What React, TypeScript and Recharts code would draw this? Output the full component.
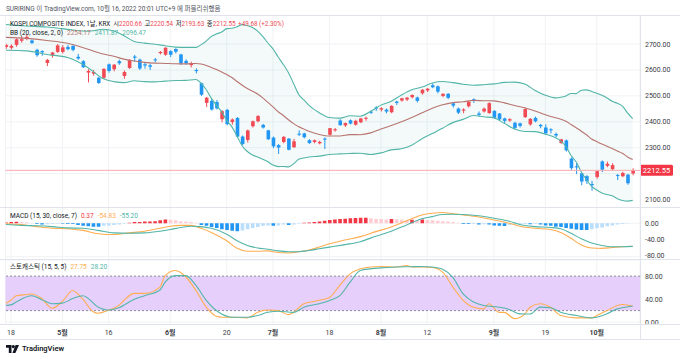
import React from "react";
import {
  Area,
  Bar,
  CartesianGrid,
  Cell,
  ComposedChart,
  Line,
  ReferenceArea,
  ReferenceLine,
  XAxis,
  YAxis,
} from "recharts";

// KOSPI daily candles, Apr 15 .. Oct 14 2022 (index -1 .. 121)
const FIRST_IDX = -1;

const opens = [
  2689,
  2686, 2697, 2713, 2721, 2714, 2678, 2673, 2627, 2656, 2670,
  2670, 2689, 2693, 2651, 2634, 2590, 2586, 2570, 2570, 2622,
  2603, 2634, 2577, 2608, 2652, 2640, 2622, 2618, 2641, 2665,
  2659, 2673, 2681, 2660, 2635, 2619, 2600, 2549, 2473, 2481,
  2476, 2410, 2446, 2399, 2415, 2343, 2330, 2383, 2402, 2388,
  2367, 2339, 2310, 2322, 2335, 2302, 2354, 2355, 2329, 2322,
  2317, 2335, 2350, 2368, 2405, 2386, 2406, 2389, 2398, 2412,
  2439, 2455, 2447, 2447, 2437, 2478, 2482, 2486, 2495, 2494,
  2510, 2521, 2541, 2537, 2500, 2508, 2471, 2451, 2443, 2460,
  2487, 2432, 2440, 2434, 2442, 2432, 2413, 2405, 2396, 2394,
  2418, 2390, 2415, 2388, 2378, 2371, 2353, 2318, 2328, 2258,
  2228, 2201, 2190, 2160, 2187, 2247, 2230, 2217, 2195, 2190,
  2196, 2200.66,
];
const highs = [
  2701,
  2699, 2722, 2730, 2736, 2718, 2682, 2676, 2643, 2670, 2700,
  2696, 2697, 2696, 2662, 2638, 2603, 2600, 2574, 2607, 2625,
  2623, 2640, 2598, 2641, 2658, 2644, 2627, 2625, 2646, 2673,
  2688, 2676, 2684, 2663, 2641, 2632, 2606, 2551, 2496, 2488,
  2484, 2445, 2450, 2413, 2418, 2347, 2370, 2405, 2426, 2392,
  2369, 2343, 2314, 2345, 2337, 2334, 2367, 2358, 2333, 2332,
  2327, 2340, 2376, 2376, 2410, 2397, 2409, 2408, 2415, 2420,
  2443, 2460, 2456, 2451, 2464, 2481, 2493, 2496, 2506, 2497,
  2526, 2530, 2548, 2540, 2510, 2511, 2475, 2455, 2452, 2480,
  2490, 2440, 2455, 2475, 2445, 2434, 2416, 2414, 2400, 2397,
  2452, 2414, 2420, 2392, 2390, 2375, 2358, 2334, 2332, 2262,
  2240, 2203, 2194, 2172, 2210, 2251, 2246, 2240, 2198, 2207,
  2199, 2220.54,
];
const lows = [
  2682,
  2679, 2690, 2706, 2715, 2700, 2651, 2655, 2615, 2648, 2666,
  2664, 2676, 2672, 2640, 2608, 2552, 2578, 2546, 2565, 2590,
  2595, 2620, 2566, 2604, 2632, 2600, 2605, 2600, 2630, 2660,
  2655, 2650, 2664, 2620, 2620, 2610, 2587, 2500, 2457, 2443,
  2448, 2398, 2386, 2389, 2340, 2310, 2320, 2378, 2398, 2374,
  2330, 2298, 2276, 2317, 2290, 2299, 2345, 2336, 2315, 2317,
  2313, 2295, 2347, 2362, 2385, 2380, 2390, 2385, 2395, 2404,
  2430, 2442, 2440, 2433, 2433, 2465, 2478, 2480, 2490, 2475,
  2505, 2515, 2530, 2510, 2495, 2488, 2455, 2430, 2433, 2455,
  2473, 2420, 2436, 2430, 2413, 2405, 2395, 2400, 2370, 2378,
  2415, 2385, 2398, 2375, 2350, 2355, 2340, 2315, 2285, 2215,
  2198, 2155, 2160, 2134, 2180, 2206, 2225, 2212, 2175, 2186,
  2157, 2193.63,
];
const closes = [
  2696.06,
  2693.21, 2718.69, 2718.89, 2728.21, 2704.71, 2657.13, 2668.31, 2639.06, 2667.49, 2695.05,
  2687.45, 2680.46, 2677.57, 2644.51, 2610.81, 2596.56, 2592.27, 2550.08, 2604.24, 2596.58,
  2620.44, 2625.98, 2592.34, 2639.29, 2647.38, 2605.87, 2617.22, 2612.45, 2638.05, 2669.66,
  2685.9, 2658.99, 2670.65, 2626.15, 2626.34, 2625.44, 2595.87, 2504.51, 2492.97, 2447.38,
  2451.41, 2440.93, 2391.03, 2408.93, 2342.81, 2314.32, 2366.6, 2401.92, 2422.09, 2377.99,
  2332.64, 2305.42, 2300.34, 2341.78, 2292.01, 2324.54, 2350.61, 2340.27, 2317.76, 2328.61,
  2322.32, 2330.98, 2375.25, 2370.97, 2386.85, 2395.27, 2393.14, 2403.69, 2412.9, 2415.53,
  2435.27, 2451.5, 2452.25, 2439.62, 2461.45, 2473.11, 2490.8, 2493.1, 2503.46, 2480.88,
  2523.78, 2527.94, 2533.52, 2516.47, 2508.05, 2492.69, 2462.5, 2435.34, 2447.45, 2477.26,
  2481.03, 2426.89, 2450.93, 2472.05, 2415.61, 2409.41, 2403.68, 2410.02, 2376.46, 2384.28,
  2449.54, 2411.42, 2401.83, 2382.78, 2355.66, 2367.85, 2347.21, 2332.31, 2290.0, 2220.94,
  2223.86, 2169.29, 2170.93, 2155.49, 2209.38, 2215.22, 2237.86, 2232.84, 2192.07, 2202.47,
  2162.87, 2212.55,
];

// Bollinger bands (20, 2), read at sample bars
const bbAt = [
  -1, 3, 7, 11, 15, 18, 20, 22, 24, 26, 28, 30, 32, 34, 36, 37, 38, 39, 40, 41,
  42, 43, 44, 45, 46, 47, 48, 49, 50, 51, 52, 53, 54, 55, 56, 57, 58, 60, 62, 64,
  66, 68, 70, 72, 74, 76, 78, 80, 82, 84, 86, 88, 90, 92, 94, 96, 98, 100, 102, 104,
  106, 107, 108, 109, 110, 111, 112, 113, 114, 115, 116, 117, 118, 119, 120, 121,
];
const bbBasis = [
  2726, 2722, 2714, 2703, 2680, 2661.5, 2652.9, 2641.9, 2634.6, 2629.5, 2626.7, 2625.4, 2624, 2623.8, 2625.4, 2623.1, 2617.6, 2610.1, 2601.6, 2592.4,
  2582.3, 2570.8, 2555.6, 2541, 2528.5, 2518, 2507.2, 2492.6, 2475, 2457.3, 2438.7, 2424.5, 2407.8, 2392.8, 2380.6, 2372.3, 2363.6, 2351.2, 2344.9, 2345.2,
  2350.6, 2350.2, 2357.2, 2372.2, 2385.5, 2399.9, 2416.8, 2434.5, 2452.3, 2465.6, 2474, 2477.3, 2482.6, 2481.3, 2480.7, 2473.1, 2462.6, 2454.1, 2441.6, 2427.4,
  2415.3, 2410.2, 2402.3, 2389.5, 2376.7, 2363.8, 2349.8, 2333.9, 2323.6, 2313.9, 2305.6, 2296.7, 2287.5, 2278.4, 2264.1, 2254.17,
];
const bbUpper = [
  2776, 2770, 2766, 2757, 2750, 2757.1, 2750.7, 2732.7, 2710.3, 2703.9, 2699.3, 2693.8, 2688.5, 2687.4, 2687.4, 2697.9, 2711.3, 2729.7, 2739.6, 2746.4,
  2759.7, 2761.2, 2766.8, 2775.2, 2771.7, 2764, 2750.2, 2729.6, 2704.2, 2681.7, 2650.3, 2621.5, 2589.6, 2548, 2505.6, 2484.3, 2463.2, 2434.8, 2416.3, 2414.2,
  2423.4, 2421.6, 2440.8, 2464.4, 2479.5, 2503.7, 2523.8, 2534.3, 2550.1, 2555.8, 2551.2, 2545.3, 2541, 2543.3, 2546.3, 2552.1, 2553.2, 2545.7, 2521, 2502.6,
  2492.5, 2494.8, 2499.9, 2509.1, 2508.9, 2521.6, 2523.2, 2517.3, 2510.6, 2502.3, 2492, 2479.1, 2471.7, 2460.6, 2434.7, 2411.87,
];
const bbLower = [
  2676, 2674, 2660, 2648, 2609, 2565.9, 2555.1, 2551.1, 2558.8, 2555, 2554, 2556.9, 2559.3, 2560.1, 2563.3, 2548.3, 2523.8, 2490.5, 2463.6, 2438.4,
  2404.9, 2380.4, 2344.4, 2306.8, 2285.3, 2272, 2264.2, 2255.6, 2245.8, 2232.9, 2227.1, 2227.5, 2226, 2237.6, 2255.6, 2260.3, 2264, 2267.6, 2273.5, 2276.2,
  2277.8, 2278.8, 2273.6, 2280, 2291.5, 2296.1, 2309.8, 2334.7, 2354.5, 2375.4, 2396.8, 2409.3, 2424.2, 2419.3, 2415.1, 2394.1, 2372, 2362.5, 2362.2, 2352.2,
  2338.1, 2325.6, 2304.7, 2269.9, 2244.5, 2206, 2176.4, 2150.5, 2136.6, 2125.5, 2119.2, 2114.3, 2103.3, 2096.2, 2093.5, 2096.47,
];

// MACD (15, 30, 7)
const histogram = [
  2,
  3, 3.5, 3, 2, 0.5, -2, -3, -2.5, -2, -1,
  -1, -1.5, -2, -4, -6, -7, -8, -8, -6, -5,
  -4, -3, -1, 1, 3, 3, 4, 4.5, 5, 7,
  9, 8.5, 7, 5, 4, 3, 1.5, -4, -6, -9,
  -11, -14, -16, -18, -19, -17, -14, -11, -9, -6,
  -5, -6, -5, -3, -4, -3, -1, 1, 2, 3,
  4, 6, 8, 9, 10, 11, 12, 12.5, 13, 13,
  12, 10.5, 10, 9, 10, 9.5, 9, 8, 8.5, 7,
  9, 8, 7, 6, 5, 4, 3, 1, -2, -2,
  -1.5, -3, -2.5, -3, -5, -6, -6.5, -4, -3.5, -3,
  -2, -2.5, -2, -3, -5, -6, -8, -9, -11, -13,
  -15, -16, -16, -14, -12, -10, -7, -5, -3, -2,
  -0.5, 0.37,
];
const macdAt = [
  -1, 2, 5, 8, 11, 14, 17, 20, 23, 26, 29, 31, 33, 35, 37, 39, 42, 44, 46, 48,
  50, 52, 54, 56, 58, 60, 62, 65, 68, 71, 74, 77, 80, 82, 84, 86, 88, 91, 94, 97,
  99, 102, 105, 107, 109, 111, 113, 115, 117, 119, 121,
];
const macdLine = [
  -1, -3, -8, -12, -13, -17, -25, -27, -23, -19, -12, -7, -5, -5, -12, -22, -42, -60, -67, -67,
  -66, -70, -71, -68, -64, -57, -49, -40, -32, -20, -9, 6, 20, 24, 26, 23, 20, 15, 8, 0,
  -7, -12, -15, -22, -36, -52, -59, -60, -58, -56, -54.83,
];
const signalLine = [
  -3, -5, -6, -8, -11, -12, -17, -23, -24, -23, -19, -15, -10, -7, -8, -12, -26, -42, -53, -59,
  -62, -66, -68, -68, -65, -61, -57, -51, -44, -31, -19, -4, 11, 16, 21, 21.5, 21, 18, 12, 5,
  -3, -8, -10, -13, -24, -37, -47, -53, -56, -56, -55.2,
];

// Stochastic (15, 5, 5)
const kAt = [
  -1, 0, 1, 3, 4, 6, 8, 10, 12, 13, 14, 16, 17, 19, 21, 22, 24, 26, 29, 30,
  32, 34, 36, 38, 40, 41, 43, 46, 48, 50, 52, 54, 55, 57, 59, 60, 62, 64, 66, 68,
  70, 72, 75, 77, 78, 80, 82, 84, 86, 88, 90, 92, 93, 95, 96, 98, 100, 101, 103, 105,
  107, 110, 113, 114, 116, 118, 119, 121,
];
const kLine = [
  33, 38, 46, 48, 49, 41, 24, 36, 55, 49, 40, 18, 15.5, 21, 29, 38, 50, 50, 61, 81,
  90, 79, 55, 26, 10, 8.5, 8.5, 7.4, 17, 21, 20, 13, 17, 32, 36, 38, 43, 64, 84, 93,
  96, 97, 96, 98.6, 96, 96, 95, 87, 61, 38, 26, 23, 32, 17, 17, 6, 14, 26, 32, 26,
  11.5, 7.4, 7.4, 11.5, 20, 29, 30.6, 27.75,
];
const dAt = [
  -1, 0, 1, 4, 6, 8, 10, 12, 14, 17, 19, 21, 24, 26, 29, 30, 32, 34, 36, 38,
  41, 43, 46, 48, 50, 52, 55, 57, 60, 62, 64, 66, 68, 72, 75, 78, 80, 82, 84, 86,
  88, 90, 92, 95, 97, 99, 101, 103, 105, 107, 110, 113, 114, 116, 118, 119, 121,
];
const dLine = [
  29, 30, 35, 46, 39, 32, 33, 41, 46, 26, 21, 25, 40, 46, 56, 69.5, 81, 81, 64, 38,
  14, 8.5, 8.5, 11.5, 17, 19, 17, 26, 32, 37.6, 46, 69.5, 90, 94.5, 96, 96.5, 97, 96, 92, 78,
  49, 35, 29, 26, 22, 14.4, 14, 26, 25, 17, 11.5, 7.4, 8.5, 14.4, 23, 25, 28.2,
];

// time axis
const tickAt = [0, 10, 19, 31, 42, 51, 62, 72, 81, 94, 104, 114];
const tickText = ["18", "5월", "16", "6월", "20", "7월", "18", "8월", "12", "9월", "19", "10월"];

const priceTicks = [2100, 2300, 2400, 2500, 2600, 2700];
const priceGrid = [2100, 2200, 2300, 2400, 2500, 2600, 2700];
const macdTicks = [0, -40, -80];
const stochTicks = [0, 40, 80];

// ---- build table ----
type Row = Record<string, number | undefined>;
const rows: Row[] = closes.map((c, k) => ({
  idx: FIRST_IDX + k,
  o: opens[k],
  h: highs[k],
  l: lows[k],
  c,
  hist: histogram[k],
}));
function place(at: number[], vals: number[], key: string) {
  at.forEach((i, n) => {
    rows[i - FIRST_IDX][key] = vals[n];
  });
}
place(bbAt, bbUpper, "bu");
place(bbAt, bbBasis, "bm");
place(bbAt, bbLower, "bl");
place(macdAt, macdLine, "macd");
place(macdAt, signalLine, "signal");
place(kAt, kLine, "k");
place(dAt, dLine, "d");

const last = closes.length - 1;
const change = closes[last] - closes[last - 1];
const changePct = (change / closes[last - 1]) * 100;

// ---- styling ----
const W = 680;
const PLOT_LEFT = 5.5;
const AXIS_W = 40;
const X_DOMAIN: [number, number] = [-1.07, 122.42];
const FONT = 'Roboto, "Noto Sans CJK KR", sans-serif';
const UP = "#f04a55";
const DOWN = "#2196f3";
const TEAL = "#52b5a8";
const ORANGE = "#ffad4f";
const BASIS = "#b87470";
const GRID = "#f1f2f5";
const LINE = "#e0e3eb";
const AXIS_TICK = { fill: "#3a3d45", fontSize: 7 };

const histColors = histogram.map((h, k) => {
  const prev = k > 0 ? histogram[k - 1] : h;
  if (h >= 0) return h >= prev ? "#f23645" : "#ffcdd2";
  return h <= prev ? DOWN : "#bbdefb";
});

const fmt2 = (v: number) => v.toFixed(2);

function Candle(props: any) {
  const { x, y, width, height, payload } = props;
  if (payload == null || payload.o == null) return null;
  const { o, h, l, c } = payload;
  const top = Math.min(y, y + height);
  const span = Math.abs(height);
  const k = h > l ? span / (h - l) : 0;
  const color = c >= o ? UP : DOWN;
  const bodyTop = top + (h - Math.max(o, c)) * k;
  const bodyBot = top + (h - Math.min(o, c)) * k;
  const cx = x + width / 2;
  return (
    <g>
      <line x1={cx} x2={cx} y1={top} y2={top + span} stroke={color} strokeWidth={1} />
      <rect x={cx - 1.8} y={bodyTop} width={3.6} height={Math.max(1, bodyBot - bodyTop)} fill={color} />
    </g>
  );
}

function PriceTag(props: any) {
  const vb = props.viewBox || {};
  const x = (vb.x ?? 0) + (vb.width ?? 0);
  const y = vb.y ?? 0;
  return (
    <g>
      <rect x={x} y={y - 5.5} width={33} height={11} rx={1.5} fill="#f23645" />
      <text x={x + 16.5} y={y} dy="0.35em" textAnchor="middle" fontSize={7.5} fill="#fff">
        {closes[last].toFixed(2)}
      </text>
    </g>
  );
}

function TimeTick(props: any) {
  const { x, y, payload } = props;
  const n = tickAt.indexOf(payload.value);
  if (n < 0) return <g />;
  const label = tickText[n];
  return (
    <text
      x={x}
      y={y}
      dy="0.35em"
      textAnchor="middle"
      fontSize={7}
      fontWeight={label.endsWith("월") ? 700 : 400}
      fill="#3a3d45"
    >
      {label}
    </text>
  );
}

const hLine = (top: number, left = 0, width = W) => (
  <div style={{ position: "absolute", left, top, width, height: 1, background: LINE }} />
);

export default function App() {
  const margin = { top: 0, right: 0, bottom: 0, left: PLOT_LEFT };
  return (
    <div
      style={{
        position: "absolute",
        left: 0,
        top: 0,
        width: W,
        height: 359,
        background: "#fff",
        overflow: "hidden",
        fontFamily: FONT,
        color: "#131722",
      }}
    >
      {/* price pane */}
      <div style={{ position: "absolute", left: 0, top: 15, width: W, height: 192, overflow: "hidden" }}>
        <ComposedChart width={W} height={192} data={rows} margin={margin}>
          <CartesianGrid stroke={GRID} horizontalValues={priceGrid} />
          <XAxis dataKey="idx" type="number" domain={X_DOMAIN} allowDataOverflow ticks={tickAt} hide />
          <YAxis
            orientation="right"
            width={AXIS_W}
            domain={[2071, 2812.4]}
            allowDataOverflow
            ticks={priceTicks}
            tickFormatter={fmt2}
            axisLine={false}
            tickLine={false}
            tickSize={3}
            tickMargin={2}
            tick={AXIS_TICK}
          />
          <Area
            dataKey={(r: Row) => (r.bu == null ? null : [r.bl, r.bu])}
            type="monotone"
            connectNulls
            stroke="none"
            fill={TEAL}
            fillOpacity={0.07}
            isAnimationActive={false}
          />
          <Line dataKey="bu" type="monotone" connectNulls dot={false} stroke={TEAL} strokeWidth={1.1} isAnimationActive={false} />
          <Line dataKey="bl" type="monotone" connectNulls dot={false} stroke={TEAL} strokeWidth={1.1} isAnimationActive={false} />
          <Line dataKey="bm" type="monotone" connectNulls dot={false} stroke={BASIS} strokeWidth={1.1} isAnimationActive={false} />
          <ReferenceLine y={closes[last]} stroke="#f6a9ae" strokeWidth={1} label={(p: any) => <PriceTag {...p} />} />
          <Bar
            dataKey={(r: Row) => [r.l, r.h]}
            barSize={4}
            shape={(p: any) => <Candle {...p} />}
            isAnimationActive={false}
          />
        </ComposedChart>
      </div>

      {/* MACD pane */}
      <div style={{ position: "absolute", left: 0, top: 207, width: W, height: 52.5, overflow: "hidden" }}>
        <ComposedChart width={W} height={52.5} data={rows} margin={margin}>
          <CartesianGrid stroke={GRID} />
          <XAxis dataKey="idx" type="number" domain={X_DOMAIN} allowDataOverflow ticks={tickAt} hide />
          <YAxis
            orientation="right"
            width={AXIS_W}
            domain={[-86.7, 39]}
            allowDataOverflow
            ticks={macdTicks}
            tickFormatter={fmt2}
            axisLine={false}
            tickLine={false}
            tickSize={3}
            tickMargin={2}
            tick={AXIS_TICK}
          />
          <Bar dataKey="hist" barSize={3.6} isAnimationActive={false}>
            {rows.map((_, k) => (
              <Cell key={k} fill={histColors[k]} />
            ))}
          </Bar>
          <Line dataKey="macd" type="monotone" connectNulls dot={false} stroke={ORANGE} strokeWidth={1.1} isAnimationActive={false} />
          <Line dataKey="signal" type="monotone" connectNulls dot={false} stroke={TEAL} strokeWidth={1.1} isAnimationActive={false} />
        </ComposedChart>
      </div>

      {/* Stochastic pane + time axis */}
      <div style={{ position: "absolute", left: 0, top: 259.5, width: W, height: 79.5, overflow: "hidden" }}>
        <ComposedChart width={W} height={79.5} data={rows} margin={margin}>
          <CartesianGrid stroke={GRID} />
          <XAxis
            dataKey="idx"
            type="number"
            domain={X_DOMAIN}
            allowDataOverflow
            ticks={tickAt}
            interval={0}
            height={15}
            axisLine={false}
            tickLine={false}
            tickSize={4}
            tickMargin={4}
            tick={(p: any) => <TimeTick {...p} />}
          />
          <YAxis
            orientation="right"
            width={AXIS_W}
            domain={[-4.2, 108.2]}
            allowDataOverflow
            ticks={stochTicks}
            tickFormatter={fmt2}
            axisLine={false}
            tickLine={false}
            tickSize={3}
            tickMargin={2}
            tick={AXIS_TICK}
          />
          <ReferenceArea y1={20} y2={80} fill="#e6cffb" fillOpacity={1} stroke="none" />
          <ReferenceLine y={80} stroke="#8d8a9a" strokeDasharray="2 2" />
          <ReferenceLine y={20} stroke="#8d8a9a" strokeDasharray="2 2" />
          <Line dataKey="k" type="monotone" connectNulls dot={false} stroke={ORANGE} strokeWidth={1.1} isAnimationActive={false} />
          <Line dataKey="d" type="monotone" connectNulls dot={false} stroke={TEAL} strokeWidth={1.1} isAnimationActive={false} />
        </ComposedChart>
      </div>

      {/* frame lines */}
      {hLine(15)}
      {hLine(207)}
      {hLine(259)}
      {hLine(324)}
      {hLine(339)}
      <div style={{ position: "absolute", left: 640, top: 15, width: 1, height: 324, background: LINE }} />

      {/* legends */}
      <div style={{ position: "absolute", left: 6, top: 3, fontSize: 6.5, color: "#50535e", whiteSpace: "nowrap" }}>
        SURIRING 이 TradingView.com, 10월 16, 2022 20:01 UTC+9 에 퍼블리쉬했음
      </div>
      <div style={{ position: "absolute", left: 10, top: 19.5, fontSize: 6.3, lineHeight: "8px", whiteSpace: "nowrap", color: "#131722" }}>
        KOSPI COMPOSITE INDEX, 1날, KRX
        <span style={{ marginLeft: 3 }}>시</span>
        <span style={{ color: UP }}>{opens[last].toFixed(2)}</span>
        <span style={{ marginLeft: 2.5 }}>고</span>
        <span style={{ color: UP }}>{highs[last].toFixed(2)}</span>
        <span style={{ marginLeft: 2.5 }}>저</span>
        <span style={{ color: UP }}>{lows[last].toFixed(2)}</span>
        <span style={{ marginLeft: 2.5 }}>종</span>
        <span style={{ color: UP }}>{closes[last].toFixed(2)}</span>
        <span style={{ color: UP, marginLeft: 2.5 }}>
          +{change.toFixed(2)} (+{changePct.toFixed(2)}%)
        </span>
      </div>
      <div style={{ position: "absolute", left: 10, top: 28.5, fontSize: 6.5, lineHeight: "8px", whiteSpace: "nowrap", color: "#131722" }}>
        BB (20, close, 2, 0)
        <span style={{ color: BASIS, marginLeft: 4 }}>{bbBasis[bbBasis.length - 1].toFixed(2)}</span>
        <span style={{ color: TEAL, marginLeft: 4 }}>{bbUpper[bbUpper.length - 1].toFixed(2)}</span>
        <span style={{ color: TEAL, marginLeft: 4 }}>{bbLower[bbLower.length - 1].toFixed(2)}</span>
      </div>
      <div style={{ position: "absolute", left: 10, top: 212, fontSize: 6.5, lineHeight: "8px", whiteSpace: "nowrap", color: "#131722" }}>
        MACD (15, 30, close, 7)
        <span style={{ color: "#f23645", marginLeft: 4 }}>{histogram[last].toFixed(2)}</span>
        <span style={{ color: ORANGE, marginLeft: 4 }}>{macdLine[macdLine.length - 1].toFixed(2)}</span>
        <span style={{ color: TEAL, marginLeft: 4 }}>{signalLine[signalLine.length - 1].toFixed(2)}</span>
      </div>
      <div style={{ position: "absolute", left: 10, top: 262.5, fontSize: 6.5, lineHeight: "8px", whiteSpace: "nowrap", color: "#131722" }}>
        스토캐스틱 (15, 5, 5)
        <span style={{ color: ORANGE, marginLeft: 4 }}>{kLine[kLine.length - 1].toFixed(2)}</span>
        <span style={{ color: TEAL, marginLeft: 4 }}>{dLine[dLine.length - 1].toFixed(2)}</span>
      </div>

      {/* TradingView mark */}
      <div style={{ position: "absolute", left: 6, top: 344, display: "flex", alignItems: "center", gap: 3 }}>
        <svg width="13" height="8" viewBox="0 0 13 8">
          <path d="M0 0h5.5v8h-2.7v-5.3h-2.8z" fill="#131722" />
          <circle cx="7.3" cy="1.6" r="1.6" fill="#131722" />
          <path d="M9.6 0h3.4l-3.6 8h-3z" fill="#131722" />
        </svg>
        <span style={{ fontSize: 7.5, fontWeight: 600, color: "#131722" }}>TradingView</span>
      </div>
    </div>
  );
}
